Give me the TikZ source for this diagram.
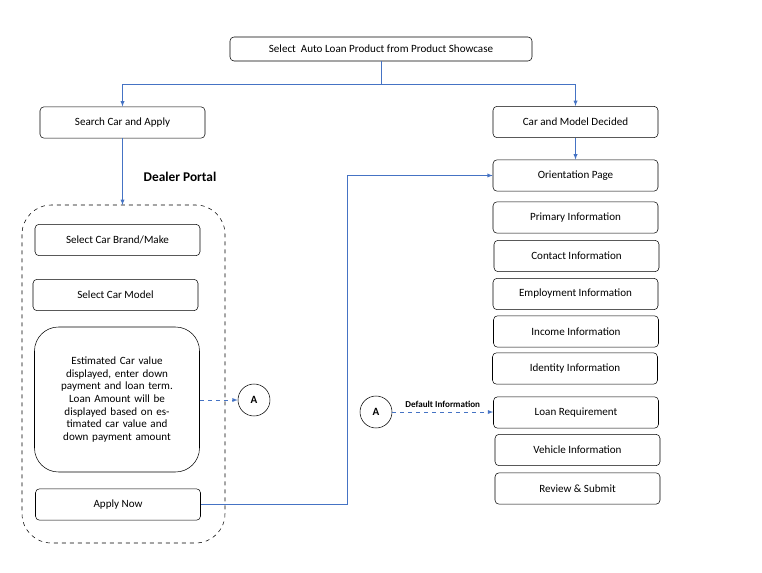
\documentclass[tikz,border=0pt]{standalone}
\usepackage{fontspec}
\setmainfont{Carlito}
\usetikzlibrary{positioning}
\usetikzlibrary{calc}
\definecolor{link}{rgb}{0.27,0.45,0.77}

\begin{document}
\begin{tikzpicture}
    [x=0.75pt, y=-0.75pt,
    box/.style={draw, rounded corners=3pt, minimum width=123.75pt, minimum height=23.5pt, inner sep=1pt, font=\fontsize{8.3}{9.5}\selectfont, align=center},
    wide/.style={box, minimum width=226.5pt, minimum height=18pt},
    bigbox/.style={box, rounded corners=18pt, text width=100pt, minimum height=108.75pt},
    conn/.style={circle, draw, minimum size=24pt, inner sep=0pt, font=\fontsize{8.3}{9.5}\selectfont\bfseries},
    flow/.style={->, >=latex, link},
    dflow/.style={flow, dashed}]
    \useasboundingbox (0,0) rectangle (762,573);
    %\draw[step=50,gray,very thin] (0,0) grid (762,573);
    \node[wide]    (top) at (381, 49)  {Select\ \ Auto Loan Product from Product Showcase};
    \node[box]     (search) at (122.5, 122.5)  {Search Car and Apply};
    \node[box]     (decided) at (575.5, 122)  {Car and Model Decided};
    \node[font=\fontsize{10}{12}\selectfont\bfseries] (dealer) at (180, 177)  {Dealer Portal};
    \draw[dashed, rounded corners=22pt] (22, 205) rectangle (225, 543);
    \coordinate (portal) at (122.5, 205);
    \node[box]     (brand) at (117.5, 240)  {Select Car Brand/Make};
    \node[box]     (model) at (115.5, 295)  {Select Car Model};
    \node[bigbox]  (estimate) at (117, 399.5)  {Estimated Car value displayed, enter down payment and loan term. Loan Amount will be displayed based on estimated car value and down payment amount};
    \node[box]     (apply) at (118, 504.5)  {Apply Now};
    \node[conn]    (A1) at (254, 400)  {A};
    \node[conn]    (A2) at (376, 412)  {A};
    \node[box]     (orient) at (575.5, 175.5)  {Orientation Page};
    \node[box]     (primary) at (575.5, 217.5)  {Primary Information};
    \node[box]     (contact) at (576.5, 256)  {Contact Information};
    \node[box]     (employ) at (575.5, 294)  {Employment Information};
    \node[box]     (income) at (576, 331.5)  {Income Information};
    \node[box]     (identity) at (575, 368.5)  {Identity Information};
    \node[box]     (loan) at (576, 412.5)  {Loan Requirement};
    \node[box]     (vehicle) at (577.5, 450)  {Vehicle Information};
    \node[box]     (review) at (577.5, 488.5)  {Review \& Submit};
    \draw[link] (top.south) -- ++(0, 23) coordinate (split);
    \draw[flow] (split) -| (search.north);
    \draw[flow] (split) -| (decided.north);
    \draw[flow] (search.south) -- (portal);
    \draw[flow] (decided) -- (orient);
    \draw[flow] (apply.east) -- (347, 504.5) |- (orient.west);
    \draw[dflow] (estimate.east |- A1) -- (A1);
    \draw[dflow] (A2) -- node[above, font=\fontsize{6.8}{8}\selectfont\bfseries, black] {Default Information} (loan.west |- A2);
\end{tikzpicture}
\end{document}
